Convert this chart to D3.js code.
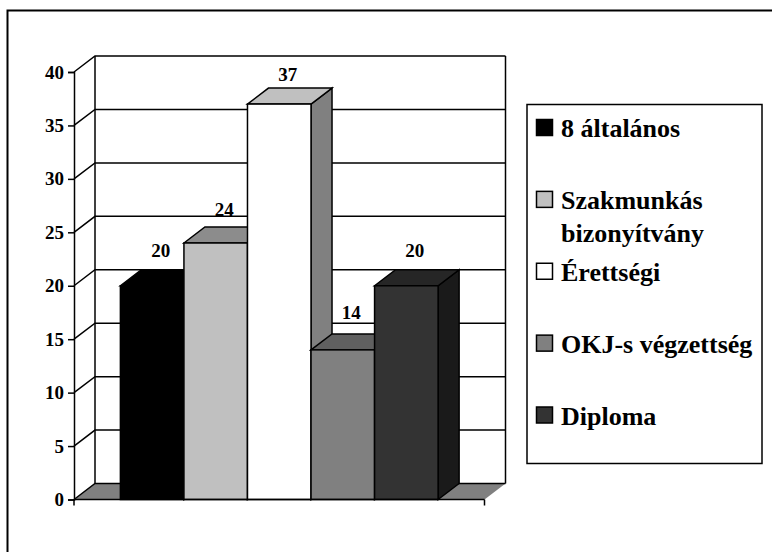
<!DOCTYPE html>
<html>
<head>
<meta charset="utf-8">
<script src="https://cdn.jsdelivr.net/npm/d3@7"></script>
<style>
  html, body { margin: 0; padding: 0; background: #fff; }
  text { font-family: "Liberation Serif", serif; font-weight: bold; fill: #000; }
</style>
</head>
<body>
<svg id="canvas" width="772" height="552" style="display:block"></svg>
<script>
// values
const categories = ["8 általános", "Szakmunkás bizonyítvány", "Érettségi", "OKJ-s végzettség", "Diploma"];
const values = [20, 24, 37, 14, 20];
const yTicks = [0, 5, 10, 15, 20, 25, 30, 35, 40];
const legendLines = [["8 általános"], ["Szakmunkás", "bizonyítvány"], ["Érettségi"], ["OKJ-s végzettség"], ["Diploma"]];
const frontColors = ["#000000", "#c0c0c0", "#ffffff", "#808080", "#333333"];
const topColors = ["#000000", "#8c8c8c", "#c0c0c0", "#606060", "#262626"];
const sideColors = ["#000000", "#606060", "#808080", "#404040", "#1a1a1a"];

const svg = d3.select("#canvas");

// 3d depth of the chart
const depthX = 21, depthY = 16;
const lw = 1.5;

const y = d3.scaleLinear().domain([0, 40]).range([499.5, 72]);
const x = d3.scaleBand().domain(categories).range([74, 484.5]).paddingInner(0).paddingOuter(0.73);
// the data labels do not sit at a fixed distance above the bars
const labelY = d3.scaleLinear().domain([0, 40]).range([464, 50]);

const x0 = x.range()[0], x1 = x.range()[1];

// outer frame, only top and left are inside the picture
svg.append("path")
    .attr("d", "M7.5,552V10.5H772")
    .attr("fill", "none").attr("stroke", "#000").attr("stroke-width", 2);

const chart = svg.append("g");

// floor
chart.append("path")
    .attr("d", `M${x0},${y(0)}L${x0 + depthX},${y(0) - depthY}H${x1 + depthX}L${x1},${y(0)}Z`)
    .attr("fill", "#808080").attr("stroke", "none");

// back wall gridlines and side wall diagonals
chart.append("g").selectAll("path")
    .data(yTicks)
    .join("path")
    .attr("d", d => `M${x0},${y(d)}L${x0 + depthX},${y(d) - depthY}H${x1 + depthX}`)
    .attr("fill", "none").attr("stroke", "#000").attr("stroke-width", lw);

// wall verticals
chart.append("path")
    .attr("d", `M${x0 + depthX},${y(0) - depthY}V${y(40) - depthY}`)
    .attr("stroke", "#000").attr("stroke-width", lw);
chart.append("path")
    .attr("d", `M${x1 + depthX},${y(0) - depthY}V${y(40) - depthY}`)
    .attr("stroke", "#000").attr("stroke-width", lw);

// axes
const yAxis = chart.append("g")
    .attr("transform", `translate(${x0},0)`)
    .call(d3.axisLeft(y).tickValues(yTicks).tickSize(6).tickPadding(4));
yAxis.selectAll("path, line").attr("stroke", "#000").attr("stroke-width", lw);
yAxis.selectAll("text").attr("font-size", 19).style("font-family", "Liberation Serif").style("font-weight", "bold");

// bars, back to front
const bars = chart.append("g").selectAll("g")
    .data(categories)
    .join("g");

bars.append("path") // side
    .attr("d", (d, i) => {
        const r = x(d) + x.bandwidth(), t = y(values[i]);
        return `M${r},${y(0)}L${r + depthX},${y(0) - depthY}V${t - depthY}L${r},${t}Z`;
    })
    .attr("fill", (d, i) => sideColors[i]).attr("stroke", "#000").attr("stroke-width", lw);

bars.append("path") // top
    .attr("d", (d, i) => {
        const l = x(d), r = l + x.bandwidth(), t = y(values[i]);
        return `M${l},${t}L${l + depthX},${t - depthY}H${r + depthX}L${r},${t}Z`;
    })
    .attr("fill", (d, i) => topColors[i]).attr("stroke", "#000").attr("stroke-width", lw);

bars.append("rect") // front
    .attr("x", d => x(d))
    .attr("y", (d, i) => y(values[i]))
    .attr("width", x.bandwidth())
    .attr("height", (d, i) => y(0) - y(values[i]))
    .attr("fill", (d, i) => frontColors[i]).attr("stroke", "#000").attr("stroke-width", lw);

// value labels
chart.append("g").selectAll("text")
    .data(categories)
    .join("text")
    .attr("x", d => x(d) + x.bandwidth() / 2 + 8.5)
    .attr("y", (d, i) => labelY(values[i]))
    .attr("text-anchor", "middle")
    .attr("font-size", 19)
    .text((d, i) => values[i]);

// front axis line and end ticks
chart.append("path")
    .attr("d", `M${x0},${y(0)}H${x1}M${x0},${y(0)}V${y(0) + 6}M${x1},${y(0)}V${y(0) + 6}`)
    .attr("stroke", "#000").attr("stroke-width", lw);

// legend
const legend = svg.append("g");
legend.append("rect")
    .attr("x", 527).attr("y", 104.5).attr("width", 235).attr("height", 359)
    .attr("fill", "#fff").attr("stroke", "#000").attr("stroke-width", 1.5);

const legendY = d3.scalePoint().domain(categories).range([127.5, 415]);

const items = legend.selectAll("g.item")
    .data(categories)
    .join("g")
    .attr("class", "item");

items.append("rect")
    .attr("x", 536.5).attr("width", 16).attr("height", 16)
    .attr("y", d => legendY(d) - 8)
    .attr("fill", (d, i) => frontColors[i]).attr("stroke", "#000").attr("stroke-width", 1.5);

items.selectAll("text")
    .data((d, i) => legendLines[i].map((t, j) => ({ t, yy: legendY(d) + 9.5 + j * 33 })))
    .join("text")
    .attr("x", 561)
    .attr("y", d => d.yy)
    .attr("font-size", 26)
    .text(d => d.t);
</script>
</body>
</html>
